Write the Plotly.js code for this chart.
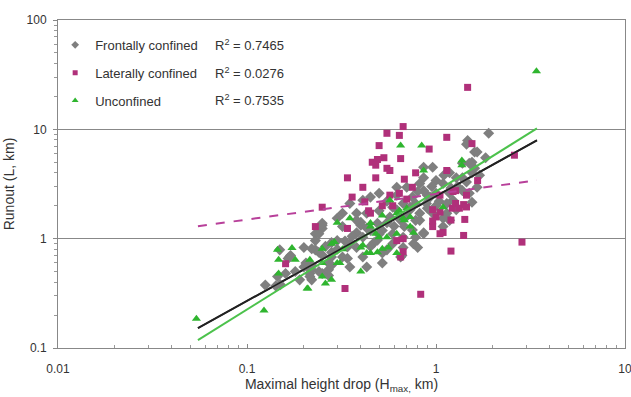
<!DOCTYPE html>
<html>
<head>
<meta charset="utf-8">
<script src="https://cdn.plot.ly/plotly-3.0.1.min.js"></script>
<style>html,body{margin:0;padding:0;background:#fff;}#chart{width:631px;height:397px;}</style>
</head>
<body>
<div id="chart"></div>
<script>
// Frontally confined (grey diamonds)
const frontalX = [0.125,0.142,0.15,0.149,0.168,0.165,0.16,0.22,0.2,0.23,0.25,0.215,0.22,0.25,0.27,0.28,0.28,0.25,0.23,0.25,
  0.34,0.32,0.38,0.35,0.40,0.43,0.45,0.52,0.50,0.55,0.62,0.70,0.75,0.86,0.86,0.96,1.0,1.09,1.18,1.28,
  1.38,1.47,1.6,1.55,1.38,1.23,1.14,1.09,1.28,0.89,0.86,0.8,0.67,0.59,0.52,0.49,0.41,0.38,0.30,0.32,
  0.35,0.27,0.28,0.30,0.23,0.2,0.57,0.65,0.73,0.78,0.93,1.0,1.04,0.86,0.67,0.62,0.49,0.43,0.38,0.50,
  0.45,0.41,0.68,0.78,0.59,0.67,1.9,1.5,1.65,1.55,1.83,1.38,1.65,1.5,1.55,1.45,1.18,0.82,1.14,0.9,
  0.78,0.96,0.82,1.18,1.09,1.45,0.86,0.66,0.25,0.24,0.4,0.41,0.76,0.22,0.24,0.28,0.34,0.21,0.22,0.24,
  0.215,0.27,0.55,0.47,0.35,0.33,0.52,0.65,0.43,0.38,0.32,0.59,0.73,0.82,0.19,0.205,0.17,0.6,0.7,0.55,
  0.9,1.2,1.0,0.75,0.45,0.5,0.62,0.8,1.1,1.3,0.95,0.36,0.3,0.26,0.18,0.145,1.6,1.7];
const frontalY = [0.376,0.37,0.38,0.79,0.68,0.66,0.48,0.57,0.55,0.79,0.71,0.48,0.42,0.48,0.46,0.57,0.75,1.24,1.11,1.33,
  0.84,1.29,1.13,2.1,1.41,1.71,1.19,1.19,1.8,2.2,2.95,2.95,2.4,3.6,4.5,4.5,3.4,3.2,2.6,3.6,
  4.9,7.9,6.2,5.0,2.75,2.25,1.71,1.54,1.84,2.1,1.13,0.83,0.83,0.9,0.74,0.97,0.68,0.83,0.96,0.68,
  0.55,0.52,0.92,1.54,0.96,0.83,1.58,1.47,1.84,1.47,2.4,2.6,2.2,2.75,2.1,1.84,1.38,1.25,1.71,2.6,
  2.4,2.25,1.29,1.03,1.11,1.03,9.2,4.9,6.2,4.0,5.5,3.6,2.95,2.6,2.15,3.3,4.0,3.2,2.1,2.5,
  2.1,1.71,1.47,1.47,1.29,7.3,1.11,0.7,1.38,1.11,1.33,1.03,0.9,0.81,0.75,0.68,0.66,0.55,0.52,0.5,
  0.45,0.6,0.79,0.92,0.9,0.95,0.6,0.68,0.55,1.47,1.71,1.94,1.94,1.71,0.42,0.6,0.7,1.3,1.6,1.4,
  1.9,2.9,2.0,1.2,0.85,1.1,2.5,2.7,3.8,3.0,3.0,1.05,0.8,0.85,0.5,0.45,4.4,3.8];

// Laterally confined (magenta squares)
const lateralX = [0.67,0.55,0.64,0.50,0.65,0.46,0.49,0.53,0.48,0.55,0.57,0.34,0.48,0.78,0.68,0.41,0.36,0.57,0.42,0.25,
  0.92,0.75,0.64,1.14,1.55,0.23,0.34,0.16,0.33,0.83,0.65,0.67,1.2,1.09,1.4,1.42,1.0,0.96,1.22,1.27,
  1.14,1.66,0.52,0.62,0.45,0.59,0.96,2.6,1.23,1.45,1.05,1.27,1.4,1.33,1.45,1.05,1.2,0.7,0.96,1.05,
  2.85,0.67,1.47,0.44];
const lateralY = [10.6,9.2,8.8,7.1,5.4,5.0,5.3,5.5,4.7,4.4,4.2,3.6,3.6,4.0,3.5,2.95,2.4,2.5,2.17,1.94,
  6.6,2.95,2.6,8.45,7.4,1.29,1.24,0.59,0.35,0.31,0.68,0.76,0.77,1.14,1.07,1.5,1.58,1.84,1.9,2.75,
  4.2,3.4,2.0,0.96,1.71,2.0,1.29,5.8,2.7,2.5,2.5,2.1,2.05,1.9,1.95,1.75,1.48,2.3,1.45,1.11,
  0.93,1.0,24.2,1.8];

// Unconfined (green triangles)
const unconfX = [3.4,0.054,0.123,0.173,0.147,0.147,0.18,0.21,0.145,0.25,0.29,0.35,0.30,0.26,0.25,0.215,0.40,0.31,0.45,0.52,
  0.41,0.65,0.84,0.62,0.67,0.73,0.62,0.50,0.45,1.09,1.37,0.86,0.57,0.45,0.52,0.64,0.73,0.76,0.55,0.48,
  0.28,0.32,0.40,0.43,0.49,0.56,0.62,0.25,0.30,0.28,0.208,1.37,0.70,0.68];
const unconfY = [34,0.185,0.22,0.82,0.64,0.48,0.64,0.35,0.79,0.81,0.93,1.54,1.4,0.39,0.45,0.64,0.5,0.6,0.74,0.81,
  0.87,7.1,7.1,1.71,1.54,1.29,1.11,1.03,1.29,1.94,5.2,4.2,2.25,1.39,1.63,1.8,1.58,1.13,1.03,1.11,
  0.9,0.8,0.83,0.74,0.75,0.83,0.74,0.6,0.6,0.42,0.35,4.7,1.9,1.47];

// Trend lines (end points of the fitted power laws)
const fitX = [0.055, 3.42];
const fitFrontalY = [0.152, 7.94];
const fitLateralY = [1.30, 3.42];
const fitUnconfY = [0.118, 10.2];

const seriesNames = ['Frontally confined','Laterally confined','Unconfined'];
const r2Labels = ['R<sup>2</sup> = 0.7465','R<sup>2</sup> = 0.0276','R<sup>2</sup> = 0.7535'];
const xTickVals = [0.01,0.1,1,10];
const xTickText = ['0.01','0.1','1','10'];
const yTickVals = [0.1,1,10,100];
const yTickText = ['0.1','1','10','100'];

function minorVals(lo, hi){ const v=[]; for(let d=lo; d<hi; d*=10){ for(let m=2;m<=9;m++) v.push(+(d*m).toPrecision(3)); } return v; }

const FONT = 'Liberation Sans, Arial, sans-serif';
const grey = '#7f7f7f', mag = '#b0307a', grn = '#2fb52f';

const traces = [
  {x: fitX, y: fitFrontalY, mode:'lines', line:{color:'#222', width:2}, showlegend:false, hoverinfo:'skip'},
  {x: frontalX, y: frontalY, mode:'markers', name:seriesNames[0], showlegend:false,
   marker:{symbol:'diamond', size:8.5, color:grey, line:{width:0}}},
  {x: lateralX, y: lateralY, mode:'markers', name:seriesNames[1], showlegend:false,
   marker:{symbol:'square', size:7, color:mag, line:{width:0}}},
  {x: unconfX, y: unconfY, mode:'markers', name:seriesNames[2], showlegend:false,
   marker:{symbol:'triangle-up', size:8, color:grn, line:{width:0}}},
  {x: fitX, y: fitUnconfY, mode:'lines', line:{color:'#4cc24c', width:2}, showlegend:false, hoverinfo:'skip'},
  {x: fitX, y: fitFrontalY, mode:'lines', line:{color:'#222', width:1.6}, showlegend:false, hoverinfo:'skip'},
  {x: fitX, y: fitLateralY, mode:'lines', line:{color:'#b8409a', width:2, dash:'dash'}, showlegend:false, hoverinfo:'skip'},
  // legend-only entries with the small legend symbols
  {x:[null], y:[null], mode:'markers', name:seriesNames[0], legendgroup:'a', marker:{symbol:'diamond', size:6, color:grey}},
  {x:[null], y:[null], mode:'markers', name:seriesNames[1], legendgroup:'b', marker:{symbol:'square', size:5, color:mag}},
  {x:[null], y:[null], mode:'markers', name:seriesNames[2], legendgroup:'c', marker:{symbol:'triangle-up', size:6, color:grn}}
];

const rowY = [0.924, 0.838, 0.756];
const annotations = r2Labels.map((t,i)=>({xref:'paper', yref:'paper', x:0.273, y:rowY[i], xanchor:'left', yanchor:'middle',
  text:t, showarrow:false, font:{family:FONT, size:13, color:'#333'}}));

const layout = {
  width:631, height:397,
  margin:{l:58, r:6, t:20, b:49},
  paper_bgcolor:'#fff', plot_bgcolor:'#fff',
  font:{family:FONT, size:11, color:'#333'},
  showlegend:true,
  legend:{x:-0.005, y:0.97, xanchor:'left', yanchor:'top', bgcolor:'rgba(255,255,255,0)',
    font:{family:FONT, size:13, color:'#333'}, itemwidth:30, tracegroupgap:8},
  xaxis:{type:'log', range:[-2,1], tickvals:xTickVals, ticktext:xTickText, showgrid:false, zeroline:false,
    showline:true, linecolor:'#888', linewidth:1, mirror:true, ticks:'inside', ticklen:4, tickcolor:'#888',
    ticklabeloverflow:'allow', ticklabelstandoff:10,
    minor:{tickvals:minorVals(0.01,10), ticks:'inside', ticklen:3, tickcolor:'#999', showgrid:false},
    tickfont:{family:FONT, size:12, color:'#333'},
    title:{text:'Maximal height drop (H<sub>max,</sub> km)', font:{family:FONT, size:14, color:'#333'}, standoff:1}},
  yaxis:{type:'log', range:[-1,2], tickvals:yTickVals, ticktext:yTickText, showgrid:true, gridcolor:'#888', gridwidth:1,
    zeroline:false, showline:true, linecolor:'#888', linewidth:1, mirror:true, ticks:'outside', ticklen:4, tickcolor:'#888',
    ticklabelstandoff:4,
    minor:{tickvals:minorVals(0.1,100), ticks:'outside', ticklen:3, tickcolor:'#999', showgrid:false},
    tickfont:{family:FONT, size:12, color:'#333'},
    title:{text:'Runout (L, km)', font:{family:FONT, size:14, color:'#333'}, standoff:8}},
  annotations: annotations
};

Plotly.newPlot('chart', traces, layout, {staticPlot:true, displayModeBar:false});
</script>
</body>
</html>
